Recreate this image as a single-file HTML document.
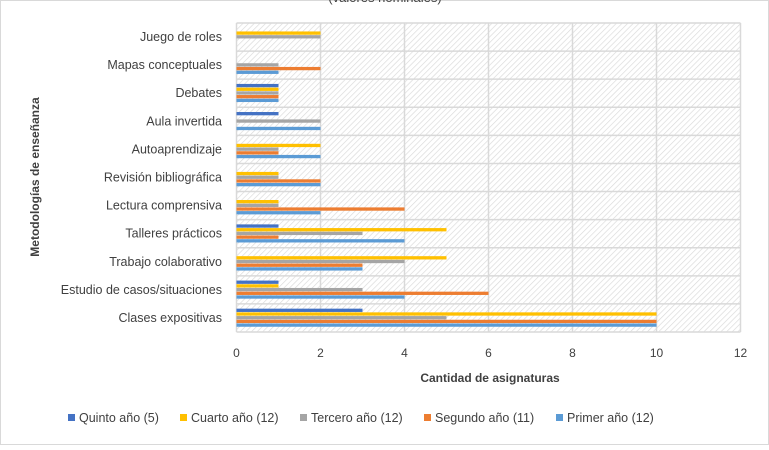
<!DOCTYPE html>
<html><head><meta charset="utf-8"><style>
body{margin:0;background:#fff;font-family:"Liberation Sans",sans-serif}
svg text{font-family:"Liberation Sans",sans-serif;fill:#404040}
</style></head><body>
<svg id="c" width="769" height="445" xmlns="http://www.w3.org/2000/svg">
<defs><pattern id="h" width="4" height="4" patternUnits="userSpaceOnUse" patternTransform="rotate(45)"><rect width="4" height="4" fill="#fff"/><line x1="0" y1="0" x2="0" y2="4" stroke="#d9d9d9" stroke-width="1.3"/></pattern></defs>
<rect x="0.5" y="0.5" width="768" height="444" fill="#fff" stroke="#d9d9d9"/>
<text x="385" y="2" text-anchor="middle" font-size="13">(valores nominales)</text>
<rect x="236.5" y="23" width="504" height="309" fill="url(#h)"/>
<g id="grid"></g><g id="bars"></g><g id="labels"></g>
<text x="490" y="382" text-anchor="middle" font-size="12" font-weight="bold">Cantidad de asignaturas</text>
<text transform="translate(39,177) rotate(-90)" text-anchor="middle" font-size="12" font-weight="bold">Metodologías de enseñanza</text>
<g id="legend"></g>
</svg>
<script>
const categories=["Juego de roles","Mapas conceptuales","Debates","Aula invertida","Autoaprendizaje","Revisión bibliográfica","Lectura comprensiva","Talleres prácticos","Trabajo colaborativo","Estudio de casos/situaciones","Clases expositivas"];
const quinto=[0,0,1,1,0,0,0,1,0,1,3];
const cuarto=[2,0,1,0,2,1,1,5,5,1,10];
const tercero=[2,1,1,2,1,1,1,3,4,3,5];
const segundo=[0,2,1,0,1,2,4,1,3,6,10];
const primer=[0,1,1,2,2,2,2,4,3,4,10];
const xTicks=[0,2,4,6,8,10,12];
const seriesNames=["Quinto año (5)","Cuarto año (12)","Tercero año (12)","Segundo año (11)","Primer año (12)"];
const seriesColors=["#4472c4","#ffc000","#a5a5a5","#ed7d31","#5b9bd5"];
const series=[quinto,cuarto,tercero,segundo,primer];
const NS="http://www.w3.org/2000/svg";
const X0=236.5,X1=740.5,Y0=23,Y1=332;
const rowH=(Y1-Y0)/categories.length;
const xs=v=>X0+v/12*(X1-X0);
function mk(tag,at,parent){const e=document.createElementNS(NS,tag);for(const k in at)e.setAttribute(k,at[k]);document.getElementById(parent).appendChild(e);return e;}
xTicks.forEach(t=>{
 const l=mk("line",{x1:xs(t),x2:xs(t),y1:Y0,y2:Y1,stroke:"#d9d9d9","stroke-width":1.5},"grid");
 
 
 const tx=mk("text",{x:xs(t),y:357,"text-anchor":"middle","font-size":12},"labels");
 tx.textContent=t;
 
 
});
for(let i=0;i<=categories.length;i++){
 const l=mk("line",{x1:X0,x2:X1,y1:Y0+i*rowH,y2:Y0+i*rowH,stroke:"#d9d9d9","stroke-width":1.5},"grid");
 
 
}
categories.forEach((c,i)=>{
 const yc=Y0+(i+0.5)*rowH;
 const tx=mk("text",{x:222,y:yc+4,"text-anchor":"end","font-size":12.5},"labels");
 tx.textContent=c;
 
 
 series.forEach((s,j)=>{
  if(!s[i])return;
  const y=yc-9.3+j*3.7;
  const r=mk("rect",{x:X0,y:y,width:xs(s[i])-X0,height:3.3,fill:seriesColors[j]},"bars");
  
  
 });
});
const lx=[68,180,300,424,556];
seriesNames.forEach((n,j)=>{
 const r=mk("rect",{x:lx[j],y:414,width:7,height:7,fill:seriesColors[j]},"legend");
 
 
 const t=mk("text",{x:lx[j]+11,y:422,"font-size":12.5},"legend");
 t.textContent=n;
 
 
});
</script>
</body></html>
